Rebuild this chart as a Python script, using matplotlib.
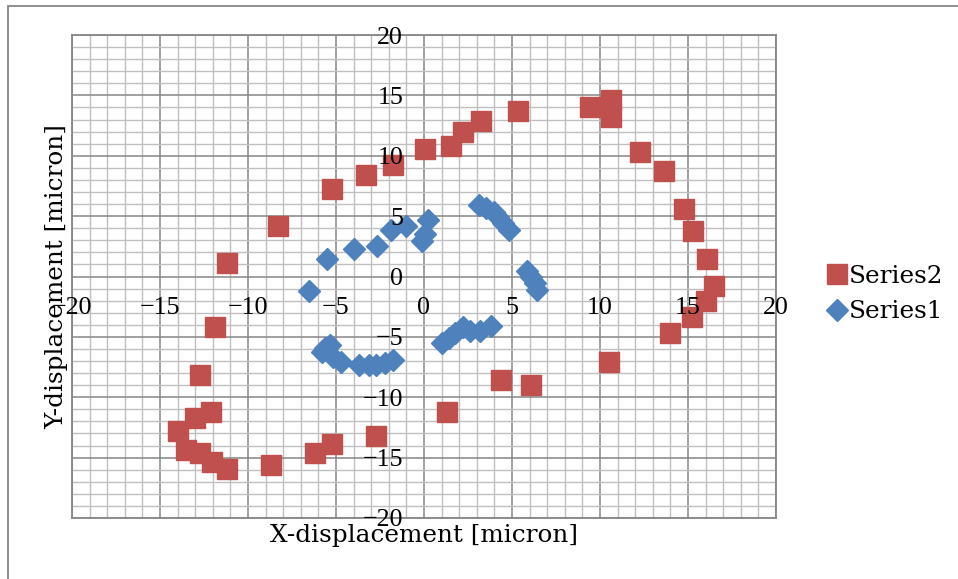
import matplotlib
matplotlib.use("Agg")
import matplotlib.pyplot as plt
from matplotlib.patches import Rectangle
from matplotlib.ticker import MultipleLocator

# Series2 (red squares)
x2 = [-11.2, -8.3, -5.2, -3.3, -1.75, 0.05, 1.55, 2.2, 3.25, 5.35, 9.45, 10.65, 10.6,
      12.25, 13.65, 14.8, 15.3, 16.1, 16.5, 16.05, 15.2, 13.95, 10.5, 6.1, 4.4, 1.3,
      -2.7, -5.2, -6.2, -8.7, -11.2, -12.05, -12.75, -13.5, -13.95, -13.0, -12.1,
      -12.7, -11.85]
y2 = [1.15, 4.2, 7.25, 8.4, 9.25, 10.6, 10.8, 12.0, 12.9, 13.7, 14.05, 14.6, 13.2,
      10.3, 8.7, 5.6, 3.8, 1.45, -0.75, -2.05, -3.35, -4.7, -7.05, -8.95, -8.55, -11.2,
      -13.2, -13.9, -14.6, -15.6, -15.95, -15.4, -14.65, -14.4, -12.8, -11.75, -11.25,
      -8.15, -4.2]

# Series1 (blue diamonds)
x1 = [-6.55, -5.5, -4.0, -2.65, -1.9, -1.0, -0.1, 0.05, 0.25, 3.15, 3.55, 3.95, 4.2,
      4.5, 4.85, 5.85, 6.1, 6.3, 6.4, 3.8, 3.2, 2.6, 2.2, 1.75, 1.4, 1.05, -1.75, -2.2,
      -2.7, -3.15, -3.7, -4.7, -5.15, -5.8, -5.35, -5.6]
y1 = [-1.2, 1.45, 2.25, 2.55, 3.85, 4.2, 2.9, 3.5, 4.7, 5.9, 5.65, 5.35, 4.95, 4.45,
      3.85, 0.45, 0.0, -0.55, -1.1, -4.1, -4.55, -4.55, -4.15, -4.7, -5.1, -5.5, -6.9,
      -7.15, -7.35, -7.35, -7.35, -7.05, -6.65, -6.25, -5.7, -5.95]

RED = "#C0504D"
BLUE = "#4F81BD"
GRID_MAJOR = "#868686"
GRID_MINOR = "#BFBFBF"

fig = plt.figure(figsize=(9.58, 5.79), dpi=100)
pos = [72 / 958, 61 / 579, 704 / 958, 483 / 579]
ax = fig.add_axes(pos)

ax.set_xlim(-20, 20)
ax.set_ylim(-20, 20)
for a in (ax.xaxis, ax.yaxis):
    a.set_major_locator(MultipleLocator(5))
    a.set_minor_locator(MultipleLocator(1))
ax.set_axisbelow(True)
ax.grid(which="minor", color=GRID_MINOR, lw=1.0)
ax.grid(which="major", color=GRID_MAJOR, lw=1.1)
ax.tick_params(which="both", length=0, labelbottom=False, labelleft=False)
for sp in ax.spines.values():
    sp.set_color(GRID_MAJOR)
    sp.set_linewidth(1.3)

s2, = ax.plot(x2, y2, ls="none", marker="s", ms=14, color=RED, mec=RED, zorder=3)
s1, = ax.plot(x1, y1, ls="none", marker="D", ms=10.8, color=BLUE, mec=BLUE, zorder=3)

ax.set_xlabel("X-displacement [micron]", family="DejaVu Serif", fontsize=17.8, labelpad=4)
ax.set_ylabel("Y-displacement [micron]", family="DejaVu Serif", fontsize=17.8, labelpad=3)

# overlay axes just for the tick labels (drawn over the markers, like Excel)
lab = fig.add_axes(pos)
lab.patch.set_visible(False)
lab.set_xlim(-20, 20)
lab.set_ylim(-20, 20)
lab.xaxis.set_major_locator(MultipleLocator(5))
lab.yaxis.set_major_locator(MultipleLocator(5))
lab.spines["top"].set_visible(False)
lab.spines["right"].set_visible(False)
lab.spines["left"].set_position(("data", 0))
lab.spines["bottom"].set_position(("data", 0))
lab.spines["left"].set_color("none")
lab.spines["bottom"].set_color("none")
lab.tick_params(length=0, pad=15, labelsize=18.7)
for t in lab.get_xticklabels() + lab.get_yticklabels():
    t.set_family("Liberation Serif")

fig.legend([s2, s1], ["Series2", "Series1"], loc="center left",
           bbox_to_anchor=(827 / 958, 1 - 294 / 579), frameon=False,
           prop={"family": "DejaVu Serif", "size": 17.8},
           handlelength=0.8, handletextpad=0.1, labelspacing=0.5,
           borderpad=0, borderaxespad=0, numpoints=1)

# chart area border (only top and left edges visible in the crop)
fig.add_artist(Rectangle((8 / 958, -0.1), 1.2, 1.1 - 6 / 579, fill=False,
                         edgecolor="#878787", lw=1.3, transform=fig.transFigure,
                         clip_on=False))

fig.savefig("out.png", dpi=100)
